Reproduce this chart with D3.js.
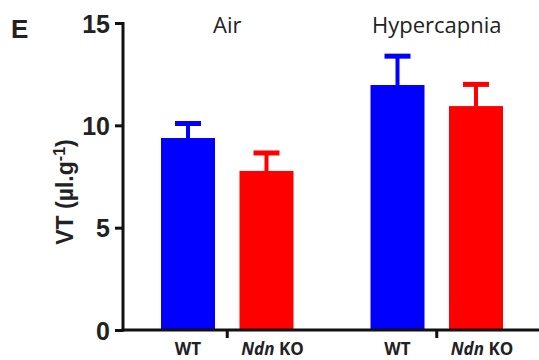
<!DOCTYPE html>
<html>
<head>
<meta charset="utf-8">
<script src="https://cdn.jsdelivr.net/npm/d3@7"></script>
<style>
  body { margin: 0; background: #fff; }
  svg { display: block; }
</style>
</head>
<body>
<svg id="chart" width="539" height="360"></svg>
<script>
// data
const conditions = ["Air", "Hypercapnia"];
const genotypes = ["WT", "Ndn KO"];
const means = [[9.38, 7.77], [11.97, 10.94]];
const sems = [[0.71, 0.88], [1.41, 1.06]];
const yTicks = [0, 5, 10, 15];
const colors = ["#0000ff", "#ff0000"];

const svg = d3.select("#chart");

const y = d3.scaleLinear().domain([0, 15]).range([330, 23]);
const outer = d3.scaleBand().domain(conditions).range([122.5, 541.5]);
const inner = d3.scaleBand().domain(genotypes).range([38.5, 171]).paddingInner(0.312);

// flatten rows for drawing
var rows = [];
conditions.forEach(function (c, i) {
  genotypes.forEach(function (g, j) {
    rows.push({ cond: c, geno: g, mean: means[i][j], sem: sems[i][j], color: colors[j] });
  });
});

const bars = svg.append("g");
rows.forEach(function (d) {
  let x0 = outer(d.cond) + inner(d.geno);
  let cx = x0 + inner.bandwidth() / 2;
  // error bar (upper only)
  bars.append("line")
    .attr("x1", cx).attr("x2", cx)
    .attr("y1", y(d.mean)).attr("y2", y(d.mean + d.sem))
    .attr("stroke", d.color).attr("stroke-width", 4);
  bars.append("line")
    .attr("x1", cx - 13).attr("x2", cx + 13)
    .attr("y1", y(d.mean + d.sem)).attr("y2", y(d.mean + d.sem))
    .attr("stroke", d.color).attr("stroke-width", 5);
  bars.append("rect")
    .attr("x", x0).attr("width", inner.bandwidth())
    .attr("y", y(d.mean)).attr("height", y(0) - y(d.mean))
    .attr("fill", d.color);
});

// y axis
const yAxis = svg.append("g")
  .attr("transform", "translate(123,0)")
  .call(d3.axisLeft(y).tickValues(yTicks).tickSize(8).tickPadding(5).tickFormat(d3.format("d")));
yAxis.select(".domain").attr("stroke", "#111").attr("stroke-width", 3).attr("d", "M0,22V331.5");
yAxis.selectAll(".tick line").attr("stroke", "#111").attr("stroke-width", 3);
yAxis.selectAll(".tick text")
  .attr("fill", "#222")
  .style("font-family", "Liberation Sans, Arial, sans-serif")
  .style("font-weight", "bold")
  .style("font-size", "25px")
  .attr("dy", "0.36em");

// x axis: baseline plus ticks at group centres
svg.append("line")
  .attr("x1", 121.5).attr("x2", 539)
  .attr("y1", y(0)).attr("y2", y(0))
  .attr("stroke", "#111").attr("stroke-width", 3);
conditions.forEach(function (c) {
  let cx = outer(c) + outer.bandwidth() / 2;
  svg.append("line")
    .attr("x1", cx).attr("x2", cx)
    .attr("y1", y(0)).attr("y2", y(0) + 8)
    .attr("stroke", "#111").attr("stroke-width", 3);
  // condition title
  svg.append("text")
    .attr("x", cx).attr("y", 33)
    .attr("text-anchor", "middle")
    .attr("fill", "#222")
    .style("font-family", "Open Sans, sans-serif")
    .style("font-size", "22px")
    .text(c);
});

// genotype labels
rows.forEach(function (d) {
  let cx = outer(d.cond) + inner(d.geno) + inner.bandwidth() / 2;
  let t = svg.append("text")
    .attr("x", cx + (d.geno === "WT" ? 0 : 6)).attr("y", 355)
    .attr("text-anchor", "middle")
    .attr("fill", "#222")
    .style("font-family", "Open Sans, sans-serif")
    .style("font-weight", "bold")
    .style("font-size", "17px");
  if (d.geno === "WT") {
    t.text("WT");
  } else {
    t.append("tspan").style("font-style", "italic").text("Ndn");
    t.append("tspan").text(" KO");
  }
});

// y axis title
const yt = svg.append("text")
  .attr("transform", "translate(73,192) rotate(-90)")
  .attr("text-anchor", "middle")
  .attr("fill", "#222")
  .style("font-family", "Liberation Sans, Arial, sans-serif")
  .style("font-weight", "bold")
  .style("font-size", "23px");
yt.append("tspan").text("VT (µl.g");
yt.append("tspan").attr("dy", -8).style("font-size", "16px").text("-1");
yt.append("tspan").attr("dy", 8).text(")");

// panel letter
svg.append("text")
  .attr("x", 11).attr("y", 38)
  .attr("fill", "#222")
  .style("font-family", "Liberation Sans, Arial, sans-serif")
  .style("font-weight", "bold")
  .style("font-size", "26px")
  .text("E");
</script>
</body>
</html>
